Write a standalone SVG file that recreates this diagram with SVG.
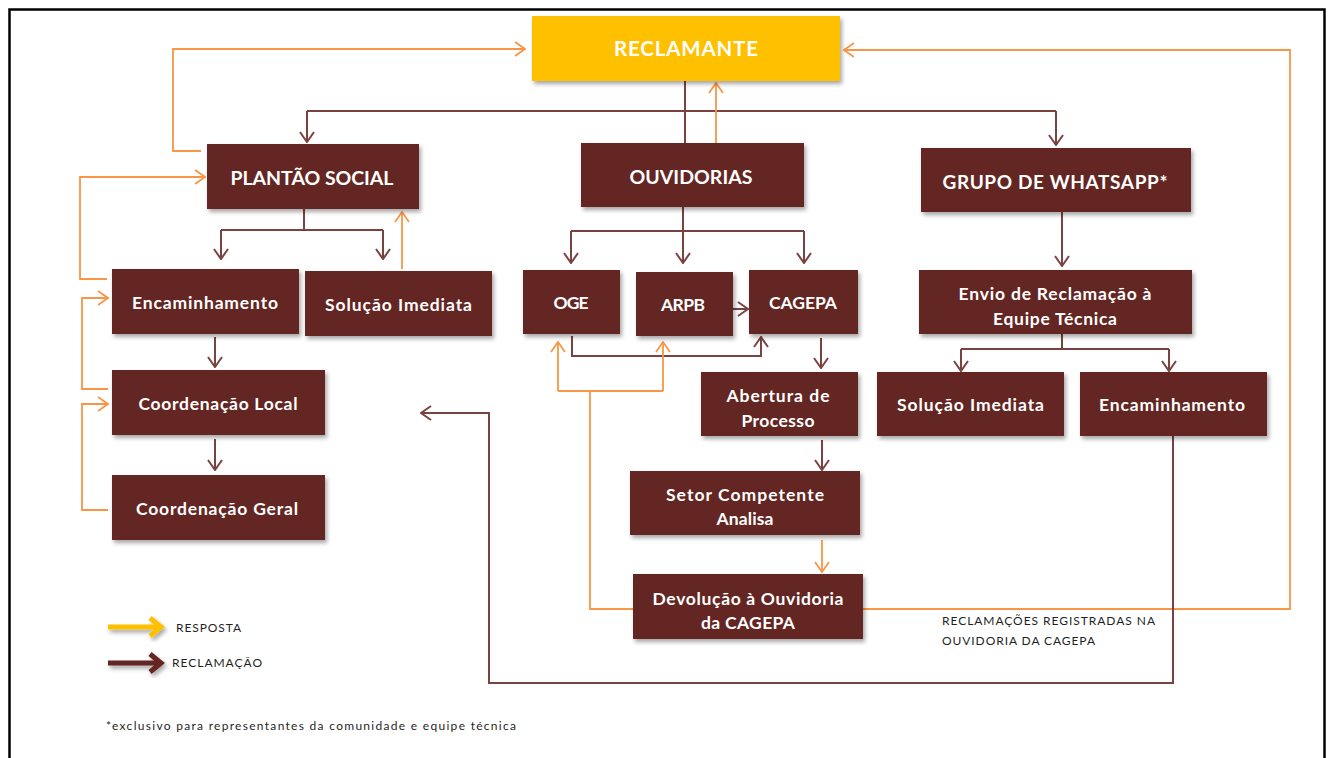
<svg xmlns="http://www.w3.org/2000/svg" width="1329" height="758" viewBox="0 0 1329 758">
<defs>
<style>
.frame{fill:none;stroke:#000;stroke-width:2.5}
.box{fill:#632523;filter:url(#sh)}
.yel{fill:#FFC000;filter:url(#sh)}
.t{font-family:Lato,"Open Sans","Liberation Sans",sans-serif;font-weight:700;fill:#fff;text-anchor:middle;dominant-baseline:central}
.s{font-size:17.5px}
.m{fill:none;stroke:#7A4342;stroke-width:2}
.o{fill:none;stroke:#F79646;stroke-width:1.8}
.am{marker-end:url(#am)}
.ao{marker-end:url(#ao)}
.lab{font-family:Lato,"Open Sans","Liberation Sans",sans-serif;fill:#1F1F1F;font-size:12px}
</style>
<filter id="sh" x="-10%" y="-10%" width="125%" height="140%">
<feDropShadow dx="2" dy="3" stdDeviation="2" flood-color="#000" flood-opacity="0.35"/>
</filter>
<marker id="am" viewBox="0 0 12 16" refX="11" refY="8" markerWidth="12" markerHeight="16" markerUnits="userSpaceOnUse" orient="auto">
<path d="M1,1 L11,8 L1,15" fill="none" stroke="#7A4342" stroke-width="2"/>
</marker>
<marker id="ao" viewBox="0 0 12 16" refX="11" refY="8" markerWidth="12" markerHeight="16" markerUnits="userSpaceOnUse" orient="auto">
<path d="M1,1 L11,8 L1,15" fill="none" stroke="#F79646" stroke-width="1.8"/>
</marker>
</defs>
<rect width="1329" height="758" fill="#fff"/>
<rect class="frame" x="9.5" y="9.5" width="1315" height="760"/>

<g id="connectors">
<path class="m" d="M685,81 V143"/>
<path class="m" d="M307,111 H1056"/>
<path class="m am" d="M1056,111 V145"/>
<path class="m am" d="M307,111 V142"/>
<path class="o ao" d="M716,143 V83"/>
<path class="o ao" d="M201,151 H173 V49 H525"/>
<path class="o ao" d="M863,609 H1290 V50 H844"/>
<path class="o ao" d="M107,279 H80 V177 H205"/>
<path class="o ao" d="M108,389 H82 V298 H108"/>
<path class="o ao" d="M108,510 H82 V404 H108"/>
<path class="m" d="M304,209 V230 M221,230 H383"/>
<path class="m am" d="M221,230 V259"/>
<path class="m am" d="M383,230 V259"/>
<path class="o ao" d="M402,269 V212"/>
<path class="m am" d="M215,337 V367"/>
<path class="m am" d="M215,439 V470"/>
<path class="m am" d="M1173,436 V683 H489 V413 H421"/>
<path class="m" d="M683,207 V231 M571,231 H804"/>
<path class="m am" d="M571,231 V263"/>
<path class="m am" d="M683,231 V263"/>
<path class="m am" d="M804,231 V263"/>
<path class="m am" d="M733,309 H748"/>
<path class="m am" d="M572,336 V356 H761 V337"/>
<path class="o" d="M633,609 H590 V391 M558,391 H663"/>
<path class="o ao" d="M558,391 V342"/>
<path class="o ao" d="M663,391 V342"/>
<path class="m am" d="M821,338 V368"/>
<path class="m am" d="M822,440 V470"/>
<path class="o ao" d="M822,540 V572"/>
<path class="m am" d="M1062,212 V266"/>
<path class="m" d="M1062,334 V349 M961,349 H1169"/>
<path class="m am" d="M961,349 V371"/>
<path class="m am" d="M1169,349 V371"/>
</g>

<g id="reclamante"><rect class="yel" x="532" y="16" width="308" height="65"/><text class="t" x="686" y="48" font-size="20.5" textLength="144">RECLAMANTE</text></g>
<g id="plantao"><rect class="box" x="207" y="144" width="212" height="65"/><text class="t" x="312" y="177" font-size="19.5" textLength="163">PLANTÃO SOCIAL</text></g>
<g id="ouvidorias"><rect class="box" x="581" y="143" width="223" height="64"/><text class="t" x="691" y="176" font-size="19.5" textLength="123">OUVIDORIAS</text></g>
<g id="whatsapp"><rect class="box" x="921" y="148" width="270" height="64"/><text class="t" x="1055" y="181" font-size="19" textLength="225">GRUPO DE WHATSAPP*</text></g>

<g id="encaminhamento-l"><rect class="box" x="112" y="269" width="187" height="65"/><text class="t s" x="205" y="302" textLength="146">Encaminhamento</text></g>
<g id="solucao-l"><rect class="box" x="305" y="271" width="187" height="65"/><text class="t s" x="398.5" y="304" textLength="147">Solução Imediata</text></g>
<g id="coord-local"><rect class="box" x="112" y="370" width="213" height="65"/><text class="t s" x="218" y="403" textLength="159">Coordenação Local</text></g>
<g id="coord-geral"><rect class="box" x="112" y="475" width="213" height="65"/><text class="t s" x="217" y="508" textLength="162">Coordenação Geral</text></g>

<g id="oge"><rect class="box" x="523" y="270" width="97" height="64"/><text class="t s" x="571" y="302" textLength="35">OGE</text></g>
<g id="arpb"><rect class="box" x="636" y="272" width="97" height="64"/><text class="t s" x="683" y="304" textLength="44">ARPB</text></g>
<g id="cagepa"><rect class="box" x="749" y="270" width="109" height="64"/><text class="t s" x="803" y="302" textLength="68">CAGEPA</text></g>
<g id="abertura"><rect class="box" x="701" y="372" width="157" height="64"/><text class="t s" x="778" y="395" textLength="103">Abertura de</text><text class="t s" x="778" y="420" textLength="73">Processo</text></g>
<g id="setor"><rect class="box" x="630" y="471" width="230" height="64"/><text class="t s" x="745" y="494" textLength="158">Setor Competente</text><text class="t s" x="745" y="518" textLength="57">Analisa</text></g>
<g id="devolucao"><rect class="box" x="633" y="574" width="230" height="65"/><text class="t s" x="748" y="598" textLength="191">Devolução à Ouvidoria</text><text class="t s" x="748" y="622" textLength="94">da CAGEPA</text></g>

<g id="envio"><rect class="box" x="919" y="270" width="273" height="64"/><text class="t s" x="1055" y="293" textLength="193">Envio de Reclamação à</text><text class="t s" x="1055" y="318" textLength="124">Equipe Técnica</text></g>
<g id="solucao-r"><rect class="box" x="877" y="372" width="187" height="64"/><text class="t s" x="970.5" y="404" textLength="147">Solução Imediata</text></g>
<g id="encaminhamento-r"><rect class="box" x="1080" y="372" width="187" height="64"/><text class="t s" x="1172" y="404" textLength="146">Encaminhamento</text></g>

<g id="note-cagepa">
<text class="lab" x="942" y="625" textLength="213">RECLAMAÇÕES  REGISTRADAS NA</text>
<text class="lab" x="942" y="645" textLength="153">OUVIDORIA DA CAGEPA</text>
</g>

<g id="legend">
<g filter="url(#sh)" fill="none" stroke="#FFC000" stroke-width="5">
<path d="M108,627 H158"/>
<path d="M150,618 L161,627 L150,636"/>
</g>
<text class="lab" x="176" y="632" font-size="12" textLength="65">RESPOSTA</text>
<g filter="url(#sh)" fill="none" stroke="#632523" stroke-width="5">
<path d="M108,663 H158"/>
<path d="M150,654 L161,663 L150,672"/>
</g>
<text class="lab" x="172" y="667" font-size="12" textLength="90">RECLAMAÇÃO</text>
</g>
<text class="lab" x="106" y="730" font-size="13" textLength="410">*exclusivo  para representantes  da comunidade  e equipe  técnica</text>
</svg>
